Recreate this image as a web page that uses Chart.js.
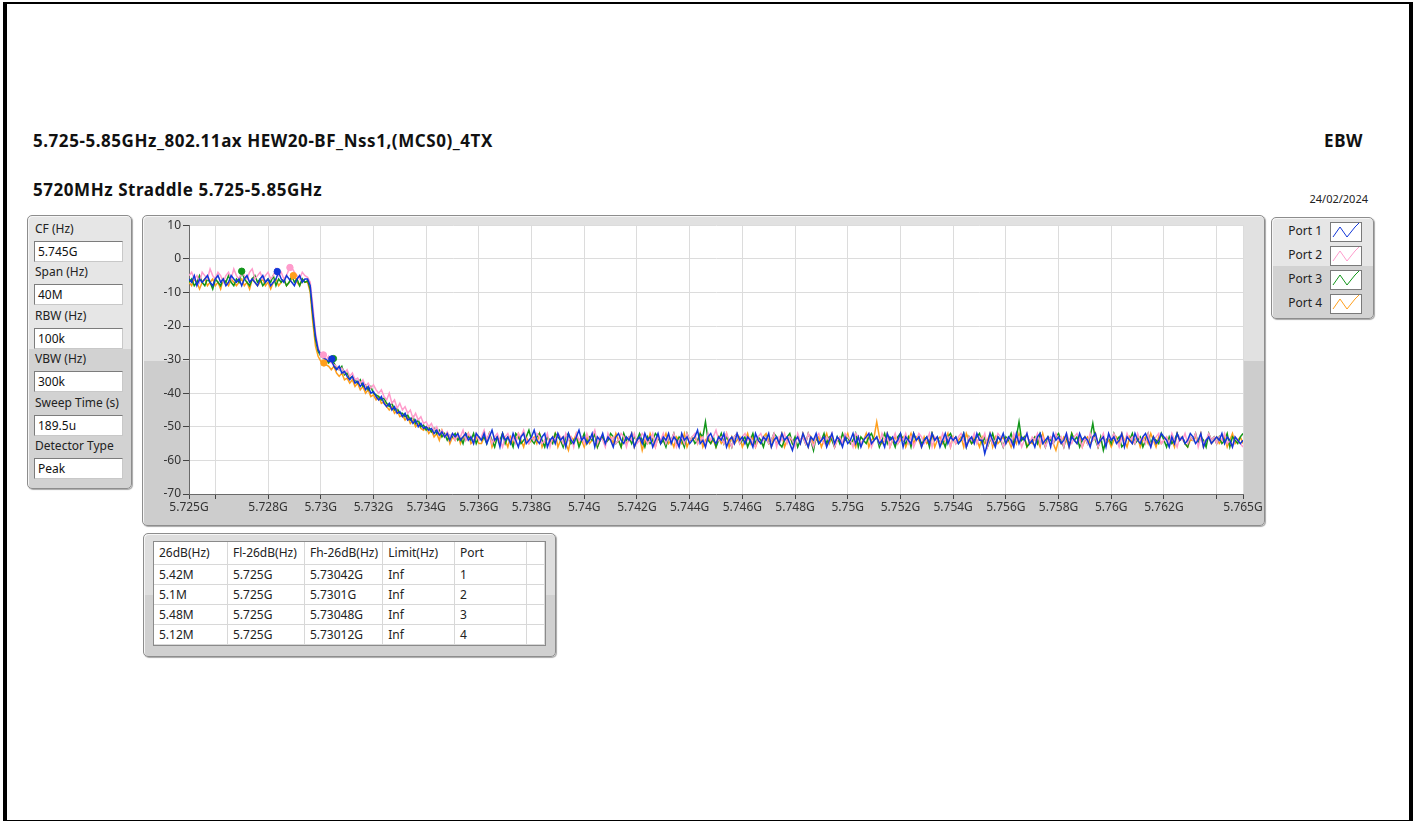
<!DOCTYPE html>
<html>
<head>
<meta charset="utf-8">
<script src="https://cdn.jsdelivr.net/npm/chart.js@4.4.1/dist/chart.umd.min.js"></script>
<style>
  html, body { margin: 0; padding: 0; background: #fff; }
  body { width: 1415px; height: 822px; position: relative; overflow: hidden; font-family: "Noto Sans", "Open Sans", sans-serif; color: #1e1e1e; }
  #frame { position: absolute; left: 3px; top: 2px; width: 1410px; height: 819px; box-sizing: border-box; border-left: 4px solid #000; border-top: 2px solid #000; border-right: 4px solid #000; border-bottom: 1px solid #000; }
  .ttl { position: absolute; font-weight: bold; font-size: 17px; letter-spacing: 0.55px; line-height: 20px; white-space: nowrap; color: #111; }
  #date { position: absolute; left: 1290px; width: 78px; top: 192px; font-size: 11px; line-height: 14px; text-align: right; color: #222; }
  .panel { position: absolute; box-sizing: border-box; border: 1px solid #8d8d8d; border-radius: 5px; box-shadow: inset 1px 1px 0 #f6f6f6, 1px 1px 1px #a8a8a8; }
  #ctrl { left: 27px; top: 215px; width: 105px; height: 274px; background: linear-gradient(#e6e6e6 0, #e6e6e6 49%, #d2d2d2 49%, #d2d2d2 100%); }
  #ctrl .lab { position: absolute; left: 7px; height: 14px; line-height: 14px; font-size: 12px; color: #222; white-space: nowrap; }
  #ctrl .box { position: absolute; left: 6px; width: 89px; height: 21px; box-sizing: border-box; background: #fff; border: 1px solid #7c7c7c; border-right-color: #c8c8c8; border-bottom-color: #c8c8c8; font-size: 12px; line-height: 19px; padding-left: 3px; color: #111; }
  #graph { left: 142px; top: 215px; width: 1123px; height: 311px; background: linear-gradient(#e1e1e1 0, #e1e1e1 47%, #cdcdcd 47%, #cdcdcd 100%); }
  #chartWrap { position: absolute; left: 0; top: 0; width: 1121px; height: 309px; }
  #legend { left: 1271px; top: 217px; width: 103px; height: 102px; background: linear-gradient(#e6e6e6 0, #e6e6e6 48%, #d2d2d2 48%, #d2d2d2 100%); }
  #legend .row { position: absolute; left: 0; width: 100px; height: 24px; }
  #legend .row span { position: absolute; right: 50px; top: 4px; font-size: 12px; line-height: 16px; color: #222; white-space: nowrap; }
  #legend .row svg { position: absolute; left: 58px; top: 3px; }
  #tbl { left: 143px; top: 533px; width: 413px; height: 124px; background: linear-gradient(#dedede 0, #dedede 50%, #d0d0d0 50%, #d0d0d0 100%); }
  #tbl .inner { position: absolute; left: 9px; top: 7px; width: 393px; height: 105px; background: #fff; border: 1px solid #8a8a8a; box-sizing: border-box; overflow: hidden; }
  #tbl table { border-collapse: collapse; font-size: 12px; color: #222; table-layout: fixed; }
  #tbl td { height: 19px; padding: 0 0 0 5px; border-right: 1px solid #d8d8d8; border-bottom: 1px solid #d8d8d8; white-space: nowrap; line-height: 18px; }
  #tbl tr.hd td { height: 22px; }
</style>
</head>
<body>
<div id="frame"></div>
<div class="ttl" style="left:33px; top:131px;">5.725-5.85GHz_802.11ax HEW20-BF_Nss1,(MCS0)_4TX</div>
<div class="ttl" style="left:1200px; width:163px; top:131px; text-align:right;">EBW</div>
<div class="ttl" style="left:33px; top:180px;">5720MHz Straddle 5.725-5.85GHz</div>
<div id="date">24/02/2024</div>

<div id="ctrl" class="panel"></div>
<div id="graph" class="panel"><div id="chartWrap"><canvas id="ebwChart"></canvas></div></div>
<div id="legend" class="panel"></div>
<div id="tbl" class="panel"><div class="inner"><table id="resTable"></table></div></div>

<script>
// sweep settings shown on the left
const ctrlLabels = ["CF (Hz)", "Span (Hz)", "RBW (Hz)", "VBW (Hz)", "Sweep Time (s)", "Detector Type"];
const ctrlValues = ["5.745G", "40M", "100k", "300k", "189.5u", "Peak"];

// trace grid: 401 points, 5.725 GHz .. 5.765 GHz
const startGHz = 5.725;
const stepGHz = 0.0001;

const portNames = ["Port 1", "Port 2", "Port 3", "Port 4"];
const portColors = ["#1236d8", "#ff9ccc", "#12961a", "#ff9f1c"];

const xTicks = [5.725, 5.726, 5.728, 5.73, 5.732, 5.734, 5.736, 5.738, 5.74, 5.742, 5.744, 5.746, 5.748, 5.75, 5.752, 5.754, 5.756, 5.758, 5.76, 5.762, 5.764, 5.765];
const xTickLabels = ["5.725G", "", "5.728G", "5.73G", "5.732G", "5.734G", "5.736G", "5.738G", "5.74G", "5.742G", "5.744G", "5.746G", "5.748G", "5.75G", "5.752G", "5.754G", "5.756G", "5.758G", "5.76G", "5.762G", "", "5.765G"];

// measured levels (dBm)
const port1 = [
  -6,-7,-5,-8,-6,-7,-6,-5,-7,-8, -6,-5,-7,-6,-8,-7,-5,-6,-7,-6, -8,-6,-5,-7,-6,-7,-8,-6,-5,-7, -6,-8,-7,-6,-4,-6,-7,-5,-6,-7, -8,-6,-5,-7,-6,-6,
  -8,-16,-23,-27,-28.5,-29.5,-30,-30.5,-30,-32, -33,-32,-34,-33.5,-35,-36,-35,-37,-36.5,-38, -37,-39,-38,-40,-39.5,-41,-42,-41,-43,-44,
  -43,-45,-44,-46,-45.5,-47,-46,-48,-47.5,-49, -48,-50,-49,-50.5,-50,-51,-50.5,-52,-51,-52.5, -51.5,-53,-52,-54,-52,-53,-52,-54,-53,-52, -54,-53,-55,-52,-53,
  -54,-52,-55,-53,-51,-54,-53,-56,-52,-54, -53,-55,-52,-54,-56,-53,-52,-55,-54,-53, -51,-54,-55,-53,-52,-56,-54,-53,-55,-52,
  -54,-53,-56,-52,-54,-55,-53,-51,-54,-53, -55,-54,-52,-56,-53,-54,-52,-55,-53,-54, -56,-53,-52,-54,-55,-53,-54,-52,-56,-54,
  -53,-55,-52,-54,-53,-56,-54,-52,-55,-53, -54,-52,-55,-53,-54,-56,-52,-54,-53,-55, -54,-53,-51,-55,-54,-56,-53,-52,-54,-55,
  -53,-54,-52,-56,-54,-53,-55,-52,-54,-53, -55,-53,-54,-56,-52,-54,-55,-53,-54,-52, -56,-54,-53,-55,-52,-54,-53,-55,-57,-54,
  -53,-55,-52,-54,-56,-53,-54,-52,-55,-54, -53,-56,-54,-52,-55,-53,-54,-56,-53,-55, -54,-52,-55,-53,-56,-54,-53,-52,-55,-54,
  -53,-55,-54,-56,-52,-54,-53,-55,-54,-52, -56,-53,-54,-55,-52,-54,-53,-56,-54,-53, -55,-52,-54,-53,-56,-54,-52,-55,-53,-54,
  -53,-55,-54,-52,-56,-54,-53,-55,-52,-54, -54,-58,-55,-52,-54,-56,-53,-54,-52,-55, -53,-54,-56,-52,-55,-53,-54,-52,-55,-54,
  -56,-53,-52,-55,-54,-53,-56,-52,-54,-53, -55,-54,-52,-56,-53,-54,-55,-52,-54,-53, -54,-56,-53,-52,-55,-54,-53,-56,-52,-54,
  -53,-55,-54,-52,-56,-53,-54,-55,-52,-54, -55,-53,-52,-54,-56,-53,-55,-54,-52,-53, -54,-56,-53,-55,-52,-54,-53,-55,-54,-52,
  -53,-55,-54,-52,-56,-54,-53,-55,-54,-53, -54,-52,-55,-53,-54,-56,-53,-54,-55,-54
];
const port2 = [
  -5,-4,-6,-5,-7,-4,-5,-6,-3,-5, -6,-4,-5,-7,-5,-4,-6,-3,-5,-6, -4,-5,-6,-4,-3,-6,-5,-4,-6,-5, -4,-6,-5,-3,-5,-4,-6,-5,-3,-2.6, -4,-5,-6,-4,-5,-5.5,
  -7,-14,-22,-26.5,-28.5,-29,-30,-29,-31,-31.5, -32,-33,-32.5,-34,-33,-35,-34,-36,-35.5,-37, -36,-38,-37,-38.5,-37.5,-39,-40,-39,-41,-42,
  -40,-43,-42,-44.5,-43,-45,-44,-46,-45,-47.5, -46,-48,-47,-49,-48.5,-50,-49,-51,-50,-52, -51,-53,-51.5,-53,-52,-54,-52.5,-53,-51,-54, -52,-53,-55,-52,-54,
  -53,-51,-54,-52,-55,-53,-52,-54,-56,-53, -52,-54,-53,-55,-52,-53,-51,-54,-55,-53, -54,-52,-53,-55,-54,-52,-56,-53,-54,-52,
  -53,-55,-52,-54,-53,-56,-52,-54,-53,-55, -52,-54,-53,-51,-55,-53,-54,-56,-52,-54, -53,-55,-54,-52,-53,-56,-53,-54,-52,-55,
  -54,-52,-53,-55,-54,-52,-56,-53,-54,-52, -55,-53,-54,-52,-56,-54,-53,-55,-52,-54, -53,-52,-55,-54,-53,-56,-52,-54,-53,-51,
  -54,-53,-55,-52,-54,-56,-53,-52,-55,-53, -52,-54,-53,-55,-56,-53,-52,-54,-53,-55, -54,-52,-56,-53,-54,-52,-55,-53,-54,-56,
  -52,-54,-53,-55,-52,-54,-56,-53,-52,-54, -55,-53,-54,-52,-56,-54,-53,-55,-52,-53, -54,-56,-52,-53,-55,-54,-53,-52,-56,-54,
  -53,-55,-52,-54,-53,-56,-54,-52,-55,-53, -54,-52,-55,-53,-56,-54,-52,-53,-55,-54, -52,-56,-53,-54,-55,-52,-54,-53,-56,-53,
  -55,-53,-52,-54,-56,-53,-54,-52,-55,-53, -54,-52,-56,-53,-55,-54,-52,-53,-56,-54, -53,-55,-52,-54,-53,-56,-54,-52,-55,-53,
  -54,-52,-55,-53,-56,-54,-53,-55,-52,-54, -53,-56,-52,-54,-55,-53,-52,-54,-56,-53, -55,-52,-54,-53,-56,-54,-52,-55,-53,-54,
  -52,-54,-56,-53,-55,-52,-54,-53,-55,-52, -54,-53,-55,-52,-56,-54,-53,-52,-55,-54, -53,-55,-52,-54,-56,-53,-54,-52,-55,-53,
  -54,-52,-56,-53,-55,-54,-52,-54,-53,-55, -53,-54,-52,-55,-54,-56,-53,-54,-55,-56
];
const port3 = [
  -7,-6,-8,-7,-5,-7,-8,-6,-7,-9, -6,-7,-8,-6,-7,-5,-7,-8,-6,-7, -3.7,-6,-7,-8,-6,-5,-7,-6,-8,-7, -6,-7,-5,-8,-6,-7,-6,-8,-7,-5, -7,-6,-8,-6,-7,-6.5,
  -9,-17,-24,-27.5,-29,-29.5,-30,-31,-29.7,-31, -32.5,-33,-32,-34.5,-34,-35.5,-35,-36,-37,-36, -38,-37.5,-39,-38,-40,-40.5,-41,-42,-41.5,-43,
  -44,-43,-45,-44.5,-46,-46,-47,-46.5,-48,-47, -49,-48,-50,-49.5,-51,-50,-51.5,-50.5,-52,-51, -53,-52,-54,-52.5,-53,-52,-54,-53,-55,-52, -53,-54,-52,-55,-53,
  -54,-53,-55,-52,-54,-56,-53,-54,-52,-55, -53,-54,-56,-52,-53,-55,-54,-53,-51,-54, -55,-53,-52,-54,-56,-53,-54,-55,-52,-53,
  -54,-56,-53,-52,-55,-54,-53,-56,-54,-52, -55,-53,-54,-52,-56,-54,-53,-55,-54,-52, -53,-55,-54,-56,-52,-54,-53,-55,-53,-54,
  -52,-54,-56,-53,-55,-54,-52,-53,-55,-54, -56,-53,-54,-52,-55,-53,-54,-56,-52,-54, -53,-55,-54,-52,-53,-48.5,-54,-55,-53,-56,
  -54,-52,-55,-53,-54,-56,-53,-52,-55,-54, -53,-56,-54,-52,-55,-53,-54,-56,-53,-55, -54,-52,-53,-55,-56,-54,-53,-52,-55,-53,
  -56,-54,-53,-55,-52,-54,-57,-53,-55,-54, -52,-55,-53,-54,-56,-53,-55,-52,-54,-53, -55,-54,-52,-56,-53,-54,-55,-53,-52,-54,
  -53,-56,-54,-52,-55,-53,-54,-56,-53,-52, -54,-55,-53,-56,-52,-54,-53,-55,-54,-53, -56,-52,-54,-53,-55,-54,-56,-53,-52,-54,
  -53,-55,-54,-52,-56,-53,-55,-54,-53,-52, -55,-53,-56,-54,-52,-55,-53,-54,-56,-53, -54,-52,-55,-53,-48.5,-54,-53,-56,-55,-54,
  -53,-55,-52,-54,-56,-53,-54,-55,-53,-52, -54,-56,-53,-55,-52,-54,-53,-56,-54,-53, -55,-53,-49,-54,-56,-53,-57,-54,-53,-55,
  -52,-54,-53,-56,-55,-53,-54,-52,-55,-54, -53,-56,-54,-52,-55,-53,-54,-55,-52,-54, -56,-53,-55,-54,-52,-54,-53,-55,-56,-53,
  -54,-52,-55,-53,-54,-56,-52,-54,-53,-55, -53,-55,-54,-52,-56,-53,-54,-55,-53,-52
];
const port4 = [
  -7,-8,-6,-7,-9,-7,-6,-8,-7,-6, -8,-7,-9,-6,-7,-8,-6,-7,-8,-7, -6,-8,-7,-9,-6,-7,-8,-7,-6,-8, -7,-9,-7,-6,-8,-7,-6,-8,-7,-6, -5,-7,-8,-6,-7,-7,
  -10,-19,-26,-29,-30.5,-31,-31.5,-32,-33,-32, -34,-35,-34,-36,-35.5,-37,-36,-38,-37,-39, -38,-40,-39,-41,-40.5,-42,-41,-43,-42.5,-44,
  -45,-44,-46,-45,-47,-46.5,-48,-47,-49,-48, -50,-49,-50.5,-51,-50,-52,-51,-53,-52,-54, -51,-53,-52,-55,-53,-54,-52,-55,-53,-54, -52,-55,-54,-53,-55,
  -55,-53,-54,-52,-56,-54,-53,-55,-52,-54, -56,-53,-55,-54,-52,-54,-56,-53,-55,-54, -53,-55,-52,-56,-54,-53,-55,-54,-52,-56,
  -54,-53,-55,-57,-53,-54,-52,-55,-54,-56, -53,-55,-54,-52,-56,-54,-53,-55,-54,-53, -55,-52,-54,-56,-53,-55,-54,-52,-56,-54,
  -53,-57,-54,-55,-52,-54,-56,-53,-55,-54, -52,-55,-54,-56,-53,-54,-55,-52,-56,-54, -54,-53,-55,-52,-56,-54,-53,-55,-54,-56,
  -53,-55,-54,-52,-56,-53,-55,-54,-53,-56, -54,-52,-55,-53,-56,-54,-55,-53,-52,-54, -56,-53,-55,-54,-52,-56,-54,-53,-55,-54,
  -53,-55,-52,-54,-56,-53,-55,-54,-53,-56, -54,-52,-55,-53,-56,-54,-53,-55,-54,-52, -55,-54,-56,-53,-55,-54,-52,-56,-54,-53,
  -48.5,-53,-55,-54,-52,-56,-54,-53,-55,-54, -53,-56,-54,-52,-55,-53,-54,-56,-53,-55, -54,-52,-56,-54,-53,-55,-54,-52,-56,-53,
  -55,-54,-53,-56,-52,-54,-55,-53,-54,-56, -53,-55,-54,-52,-56,-53,-55,-54,-53,-55, -54,-56,-53,-55,-52,-54,-53,-56,-54,-55,
  -53,-54,-56,-52,-55,-54,-53,-55,-57,-54, -55,-53,-54,-56,-52,-54,-55,-53,-56,-54, -53,-55,-54,-52,-56,-54,-53,-55,-54,-56,
  -54,-53,-55,-52,-54,-56,-53,-55,-54,-53, -56,-54,-53,-55,-52,-54,-56,-53,-55,-54, -53,-55,-54,-56,-52,-54,-53,-55,-56,-54,
  -54,-53,-55,-52,-56,-54,-53,-55,-54,-53, -55,-54,-53,-56,-54,-52,-55,-54,-53,-55
];
const portLevels = [port1, port2, port3, port4];

// peak markers and -26 dB edge markers, per port
const peakFreq = [5.72835, 5.72883, 5.7270, 5.72896];
const peakLevel = [-3.8, -2.6, -3.7, -5.0];
const edgeFreq = [5.73042, 5.7301, 5.73048, 5.73012];
const edgeLevel = [-29.8, -28.6, -29.7, -31.0];

// result table
const tableHead = ["26dB(Hz)", "Fl-26dB(Hz)", "Fh-26dB(Hz)", "Limit(Hz)", "Port"];
const bw26 = ["5.42M", "5.1M", "5.48M", "5.12M"];
const fl26 = ["5.725G", "5.725G", "5.725G", "5.725G"];
const fh26 = ["5.73042G", "5.7301G", "5.73048G", "5.73012G"];
const limits = ["Inf", "Inf", "Inf", "Inf"];
const ports = ["1", "2", "3", "4"];

// left control column
const ctrl = document.getElementById("ctrl");
ctrl.innerHTML = ctrlLabels
  .map((l, k) => {
    const top = k * 43.4;
    return `<div class="lab" style="top:${6 + top}px">${l}</div><div class="box" style="top:${25 + top}px">${ctrlValues[k]}</div>`;
  })
  .join("");

// legend
document.getElementById("legend").innerHTML = portNames
  .map((n, k) => `
    <div class="row" style="top:${1 + k * 24}px">
      <span>${n}</span>
      <svg width="32" height="20"><rect x="0.5" y="0.5" width="31" height="19" fill="#fff" stroke="#7a7a7a"/>
        <polyline points="3,15 10,5 17,15 25,5 29,1" fill="none" stroke="${portColors[k]}" stroke-width="1"/></svg>
    </div>`)
  .join("");

// table
const colW = [76, 78, 79, 74, 78, 20];
const rows = bw26.map((b, i) => [b, fl26[i], fh26[i], limits[i], ports[i]]);
document.getElementById("resTable").innerHTML =
  `<colgroup>${colW.map((w) => `<col style="width:${w}px">`).join("")}</colgroup>` +
  `<tr class="hd">${tableHead.map((h) => `<td>${h}</td>`).join("")}<td></td></tr>` +
  rows.map((r) => `<tr>${r.map((c) => `<td>${c}</td>`).join("")}<td></td></tr>`).join("") +
  `<tr><td></td><td></td><td></td><td></td><td></td><td></td></tr>`;

// chart
const plotBg = {
  id: "plotBg",
  beforeDraw(chart) {
    const { ctx, chartArea: a } = chart;
    ctx.save();
    ctx.fillStyle = "#fff";
    ctx.fillRect(a.left, a.top, a.width, a.height);
    ctx.restore();
  },
};

const lineSets = portLevels.map((lv, k) => ({
  label: portNames[k],
  data: lv.map((y, i) => ({ x: startGHz + i * stepGHz, y })),
  borderColor: portColors[k],
  borderWidth: 1.5,
  pointRadius: 0,
  tension: 0,
  order: 1,
}));
const markerSets = portNames.map((n, k) => ({
  label: n + " markers",
  data: [
    { x: peakFreq[k], y: peakLevel[k] },
    { x: edgeFreq[k], y: edgeLevel[k] },
  ],
  showLine: false,
  pointRadius: 3.2,
  pointBackgroundColor: portColors[k],
  pointBorderColor: portColors[k],
  order: 0,
}));

const tickFont = { family: "Noto Sans", size: 12 };

new Chart(document.getElementById("ebwChart"), {
  type: "line",
  data: { datasets: [...lineSets, ...markerSets] },
  plugins: [plotBg],
  options: {
    responsive: true,
    maintainAspectRatio: false,
    animation: false,
    layout: { padding: { left: 0, right: 21, top: 8, bottom: 0 } },
    plugins: { legend: { display: false }, tooltip: { enabled: false } },
    scales: {
      x: {
        type: "linear",
        min: 5.725,
        max: 5.765,
        afterBuildTicks: (s) => { s.ticks = xTicks.map((v) => ({ value: v })); },
        afterFit: (s) => { s.height = 31; },
        ticks: { autoSkip: false, maxRotation: 0, padding: 1, color: "#333", font: tickFont, callback: (v, i) => xTickLabels[i] },
        grid: { color: "#dcdcdc", lineWidth: 1, tickColor: "#444", tickLength: 5 },
        border: { color: "#6a6a6a", width: 1 },
      },
      y: {
        min: -70,
        max: 10,
        afterFit: (s) => { s.width = 46; },
        ticks: { stepSize: 10, padding: 2, color: "#333", font: tickFont },
        grid: { color: "#dcdcdc", lineWidth: 1, tickColor: "#444", tickLength: 6 },
        border: { color: "#6a6a6a", width: 1 },
      },
    },
  },
});
</script>
</body>
</html>
